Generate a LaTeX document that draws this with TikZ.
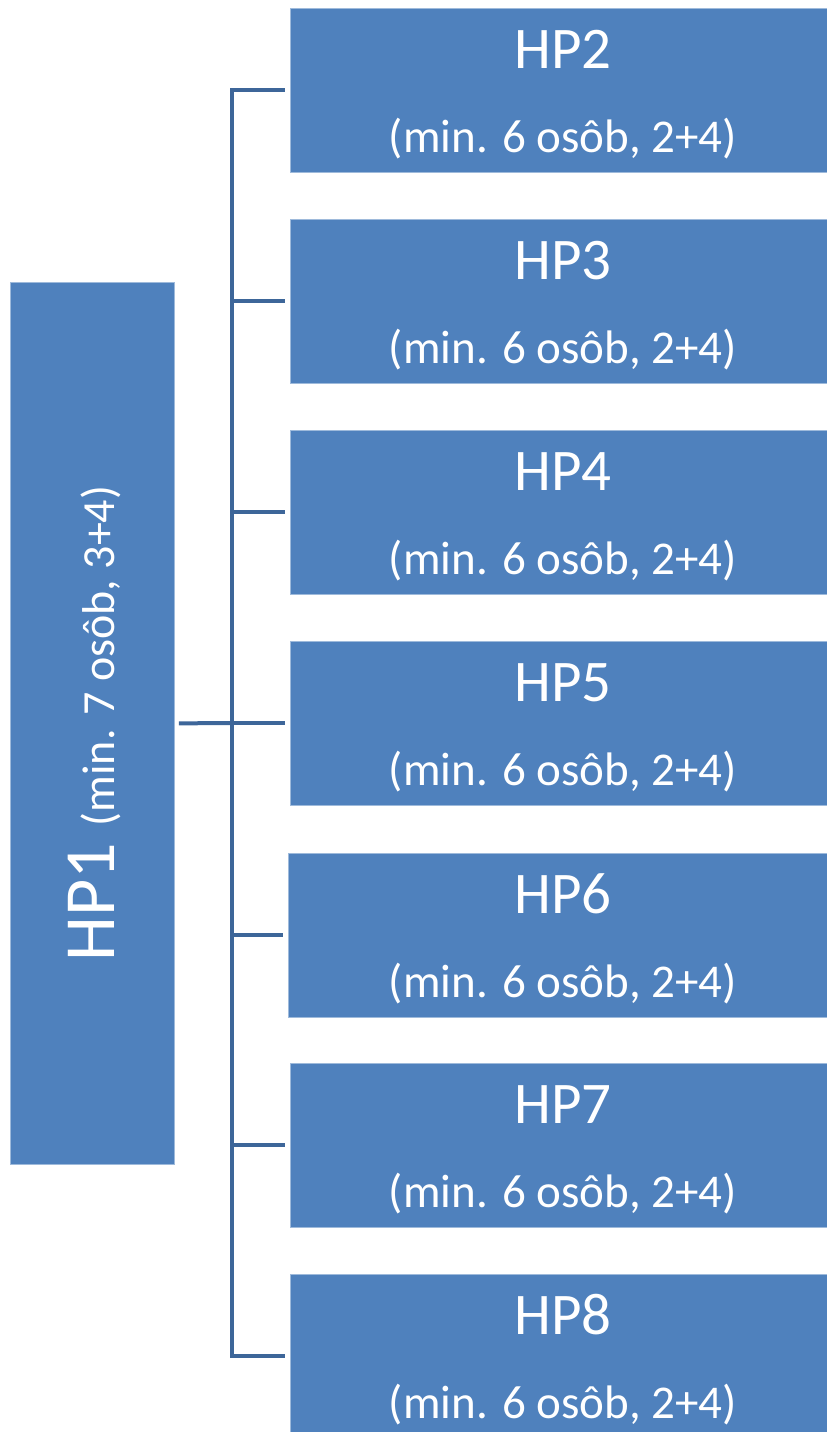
\documentclass[tikz,border=0pt]{standalone}
\usepackage{fontspec}
\setmainfont{Carlito}
\usetikzlibrary{positioning}
\definecolor{boxblue}{HTML}{4F81BD}
\definecolor{lineblue}{HTML}{3D6699}

\begin{document}
\begin{tikzpicture}[x=1pt,y=-1pt,
    hpbox/.style={fill=boxblue,draw=boxblue!55!white,line width=0.8pt,minimum width=540pt,minimum height=164pt,anchor=north west,inner sep=0pt},
    hptitle/.style={text=white,anchor=base,inner sep=0pt,font=\fontsize{59}{60}\selectfont},
    hpsub/.style={text=white,anchor=base,inner sep=0pt,font=\fontsize{47}{50}\selectfont},
    conn/.style={draw=lineblue,line width=4pt}]
  \useasboundingbox (0,0) rectangle (827,1432);

  % left box
  \node[hpbox,minimum width=164pt,minimum height=882pt] (HP1) at (10,282) {};
  \node[rotate=90,text=white,inner sep=0pt] (T1) at ([xshift=2pt]HP1.center)
    {\fontsize{72}{74}\selectfont HP1 \fontsize{46}{48}\selectfont(min. 7 osôb, 3+4)};

  % right boxes
  \foreach \x/\y [count=\n from 2] in
      {290/8,290/219,290/430,290/641,288/853,290/1063,290/1274}
  {
    \node[hpbox] (HP\n) at (\x,\y) {};
    \node[hptitle] (L\n) at (563,\y+60) {HP\n};
    \node[hpsub] (S\n) at (563,\y+144) {(min. 6 osôb, 2+4)};
  }

  % connectors
  \coordinate (J) at (232,723);
  \draw[conn,shorten <=4pt] (HP1.east) -- (J);
  \draw[conn,line cap=rect] (J |- HP2.west) -- (J |- HP8.west);
  \foreach \n in {2,...,8}
    \draw[conn,shorten >=5pt] (J |- HP\n.west) -- (HP\n.west);
\end{tikzpicture}
\end{document}
